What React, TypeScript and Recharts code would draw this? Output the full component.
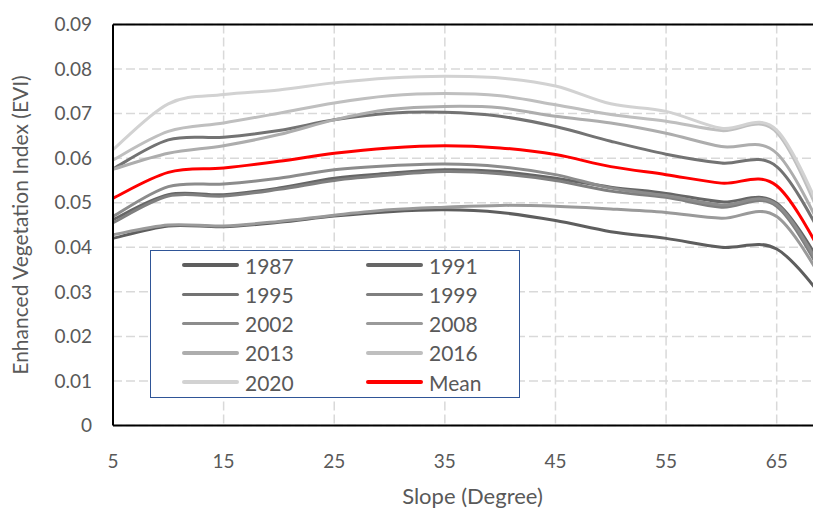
import React from 'react';
import { LineChart, Line, XAxis, YAxis, CartesianGrid, Legend, ReferenceLine, Label } from 'recharts';

const slopes = [5, 10, 15, 20, 25, 30, 35, 40, 45, 50, 55, 60, 65, 70];

const evi1987 = [0.0420, 0.0448, 0.0446, 0.0456, 0.0470, 0.0480, 0.0484, 0.0478, 0.0460, 0.0435, 0.0420, 0.0400, 0.0396, 0.0262];
const evi1991 = [0.0462, 0.0518, 0.0518, 0.0533, 0.0555, 0.0566, 0.0574, 0.0570, 0.0555, 0.0535, 0.0521, 0.0502, 0.0499, 0.0322];
const evi1995 = [0.0576, 0.0641, 0.0647, 0.0662, 0.0686, 0.0701, 0.0703, 0.0694, 0.0671, 0.0638, 0.0609, 0.0589, 0.0581, 0.0385];
const evi1999 = [0.0455, 0.0515, 0.0515, 0.0530, 0.0550, 0.0562, 0.0570, 0.0565, 0.0550, 0.0526, 0.0512, 0.0490, 0.0492, 0.0300];
const evi2002 = [0.0469, 0.0536, 0.0542, 0.0555, 0.0574, 0.0583, 0.0587, 0.0581, 0.0563, 0.0533, 0.0516, 0.0495, 0.0496, 0.0310];
const evi2008 = [0.0428, 0.0450, 0.0448, 0.0458, 0.0472, 0.0484, 0.0490, 0.0494, 0.0492, 0.0486, 0.0478, 0.0465, 0.0469, 0.0292];
const evi2013 = [0.0575, 0.0611, 0.0628, 0.0653, 0.0686, 0.0709, 0.0716, 0.0713, 0.0694, 0.0679, 0.0656, 0.0626, 0.0611, 0.0395];
const evi2016 = [0.0596, 0.0660, 0.0679, 0.0701, 0.0724, 0.0740, 0.0745, 0.0740, 0.0720, 0.0698, 0.0683, 0.0662, 0.0658, 0.0410];
const evi2020 = [0.0619, 0.0722, 0.0743, 0.0753, 0.0769, 0.0780, 0.0784, 0.0780, 0.0762, 0.0722, 0.0705, 0.0667, 0.0663, 0.0425];
const eviMean = [0.0510, 0.0568, 0.0578, 0.0593, 0.0611, 0.0623, 0.0628, 0.0623, 0.0608, 0.0581, 0.0563, 0.0544, 0.0538, 0.0345];

const xTicks = [5, 15, 25, 35, 45, 55, 65];
const yTicks = [0, 0.01, 0.02, 0.03, 0.04, 0.05, 0.06, 0.07, 0.08, 0.09];

const series = [
  { key: '1987', values: evi1987, color: '#5e5e5e' },
  { key: '1991', values: evi1991, color: '#666666' },
  { key: '1995', values: evi1995, color: '#737373' },
  { key: '1999', values: evi1999, color: '#7f7f7f' },
  { key: '2002', values: evi2002, color: '#8c8c8c' },
  { key: '2008', values: evi2008, color: '#9a9a9a' },
  { key: '2013', values: evi2013, color: '#adadad' },
  { key: '2016', values: evi2016, color: '#bfbfbf' },
  { key: '2020', values: evi2020, color: '#d2d2d2' },
  { key: 'Mean', values: eviMean, color: '#ff0000' },
];

const data = slopes.map((s, i) => {
  const row: Record<string, number> = { slope: s };
  series.forEach(sr => { row[sr.key] = sr.values[i]; });
  return row;
});

// Excel style smoothed line (bezier with 1/6 tangents)
const excelCurve = (context: any) => {
  let xs: number[] = [];
  let ys: number[] = [];
  return {
    areaStart() {},
    areaEnd() {},
    lineStart() { xs = []; ys = []; },
    point(x: number, y: number) { xs.push(+x); ys.push(+y); },
    lineEnd() {
      const n = xs.length;
      if (!n) return;
      context.moveTo(xs[0], ys[0]);
      for (let i = 0; i < n - 1; i++) {
        const p = Math.max(i - 1, 0);
        const q = Math.min(i + 2, n - 1);
        context.bezierCurveTo(
          xs[i] + (xs[i + 1] - xs[p]) / 6, ys[i] + (ys[i + 1] - ys[p]) / 6,
          xs[i + 1] - (xs[q] - xs[i]) / 6, ys[i + 1] - (ys[q] - ys[i]) / 6,
          xs[i + 1], ys[i + 1]
        );
      }
    },
  };
};

const font = 'Lato, "Liberation Sans", sans-serif';
const textColor = '#595959';

function LegendBox() {
  return (
    <div
      style={{
        position: 'relative',
        width: 370,
        height: 148,
        boxSizing: 'border-box',
        border: '1.5px solid #2f5597',
        background: '#fff',
        fontFamily: font,
        fontSize: 21,
        color: textColor,
      }}
    >
      {series.map((sr, i) => {
        const col = i % 2;
        const row = Math.floor(i / 2);
        return (
          <div
            key={sr.key}
            style={{
              position: 'absolute',
              left: col === 0 ? 31 : 215,
              top: row * 29.3,
              height: 28,
              display: 'flex',
              alignItems: 'center',
            }}
          >
            <div style={{ width: 57, height: 3.5, background: sr.color, borderRadius: 2, marginRight: 6 }} />
            <span>{sr.key}</span>
          </div>
        );
      })}
    </div>
  );
}

export default function App() {
  return (
    <div style={{ width: 813, height: 505, overflow: 'hidden', position: 'relative' }}>
      <LineChart
        width={830}
        height={505}
        data={data}
        margin={{ top: 16.5, right: 6, left: 0, bottom: 0 }}
      >
        <CartesianGrid stroke="#d9d9d9" strokeWidth={1.5} strokeDasharray="9 4" />
        <XAxis
          dataKey="slope"
          type="number"
          domain={[5, 70]}
          ticks={xTicks}
          allowDataOverflow
          height={87.5}
          stroke="#000"
          strokeWidth={2}
          tickLine={false}
          tickSize={0}
          tickMargin={29}
          tick={{ fill: textColor, fontSize: 19, fontFamily: font }}
        >
          <Label
            value="Slope (Degree)"
            position="insideBottom"
            offset={9}
            style={{ fill: textColor, fontSize: 22, fontFamily: font }}
          />
        </XAxis>
        <YAxis
          type="number"
          domain={[0, 0.09]}
          ticks={yTicks}
          allowDataOverflow
          width={105}
          stroke="#000"
          strokeWidth={2}
          tickLine={false}
          tickSize={0}
          tickMargin={21}
          tickFormatter={(v: number) => (v === 0 ? '0' : v.toFixed(2))}
          tick={{ fill: textColor, fontSize: 19, fontFamily: font }}
        >
          <Label
            value="Enhanced Vegetation Index (EVI)"
            angle={-90}
            position="insideLeft"
            offset={13}
            style={{ fill: textColor, fontSize: 21, fontFamily: font, textAnchor: 'middle' }}
          />
        </YAxis>
        <ReferenceLine y={0.09} stroke="#000" strokeWidth={2} />
        {series.map(sr => (
          <Line
            key={sr.key}
            dataKey={sr.key}
            type={excelCurve as any}
            stroke={sr.color}
            strokeWidth={3}
            dot={false}
            activeDot={false}
            isAnimationActive={false}
          />
        ))}
        <Legend
          layout="vertical"
          align="center"
          verticalAlign="middle"
          wrapperStyle={{ left: 142, top: 242, width: 370, height: 148 }}
          content={() => <LegendBox />}
        />
      </LineChart>
    </div>
  );
}
